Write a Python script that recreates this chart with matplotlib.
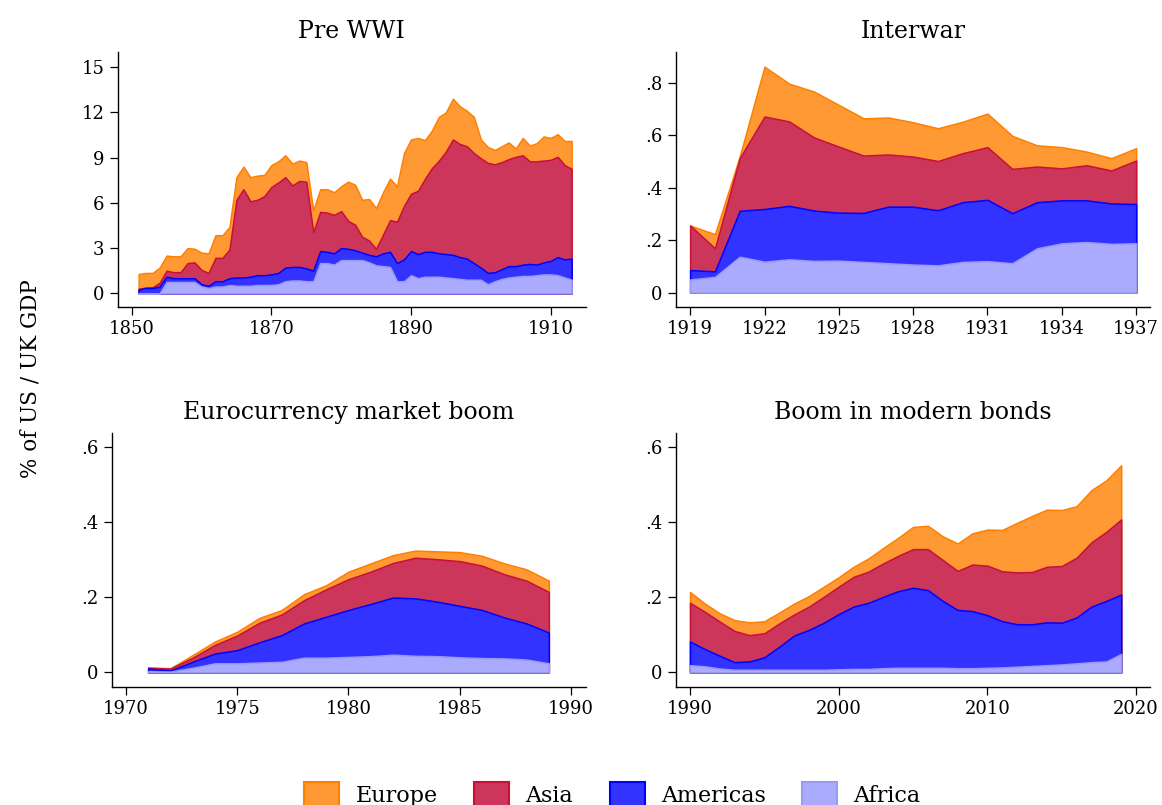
import numpy as np
import matplotlib
matplotlib.use("Agg")
from matplotlib import pyplot as plt
from matplotlib.patches import Patch

plt.rcParams['font.family'] = ['DejaVu Serif']

# ---- Pre WWI (1851-1913), % of US/UK GDP
years_pre = list(range(1851, 1914))
africa_pre = [0.0, 0.0, 0.0, 0.0, 0.75, 0.75, 0.75, 0.75, 0.75, 0.45,
              0.35, 0.45, 0.45, 0.55, 0.5, 0.5, 0.5, 0.55, 0.55, 0.55,
              0.6, 0.8, 0.85, 0.85, 0.8, 0.8, 2.0, 2.0, 1.9, 2.2,
              2.2, 2.2, 2.2, 2.05, 1.85, 1.8, 1.75, 0.8, 0.8, 1.2,
              1.0, 1.1, 1.1, 1.1, 1.05, 1.0, 0.95, 0.9, 0.9, 0.9,
              0.6, 0.8, 0.95, 1.05, 1.1, 1.15, 1.15, 1.2, 1.25, 1.25,
              1.2, 1.05, 0.9]
americas_pre = [0.25, 0.35, 0.35, 0.45, 0.35, 0.25, 0.25, 0.25, 0.25, 0.15,
                0.15, 0.35, 0.35, 0.45, 0.55, 0.55, 0.6, 0.65, 0.65, 0.7,
                0.75, 0.9, 0.9, 0.9, 0.85, 0.7, 0.8, 0.75, 0.75, 0.8,
                0.75, 0.65, 0.5, 0.5, 0.6, 0.85, 1.0, 1.2, 1.45, 1.6,
                1.6, 1.65, 1.65, 1.55, 1.55, 1.55, 1.45, 1.4, 1.1, 0.8,
                0.75, 0.6, 0.65, 0.75, 0.7, 0.75, 0.8, 0.7, 0.8, 0.9,
                1.2, 1.2, 1.4]
asia_pre = [0.05, 0.03, 0.05, 0.25, 0.4, 0.4, 0.4, 1.0, 1.05, 0.95,
            0.85, 1.55, 1.55, 1.9, 5.15, 5.85, 5.0, 5.0, 5.25, 5.8,
            6.0, 6.0, 5.4, 5.7, 5.75, 2.55, 2.6, 2.6, 2.55, 2.45,
            1.85, 1.7, 1.05, 0.95, 0.5, 1.25, 2.1, 2.75, 3.55, 3.8,
            4.2, 4.85, 5.55, 6.15, 6.8, 7.65, 7.5, 7.45, 7.3, 7.25,
            7.3, 7.15, 7.1, 7.1, 7.25, 7.25, 6.8, 6.85, 6.75, 6.7,
            6.65, 6.25, 5.95]
europe_pre = [0.98, 0.97, 0.95, 1.0, 1.0, 1.05, 1.05, 1.0, 0.9, 1.15,
              1.3, 1.5, 1.5, 1.5, 1.5, 1.5, 1.6, 1.6, 1.4, 1.45,
              1.4, 1.45, 1.45, 1.35, 1.3, 1.45, 1.5, 1.55, 1.5, 1.65,
              2.6, 2.65, 2.45, 2.75, 2.7, 2.8, 2.75, 2.35, 3.5, 3.6,
              3.5, 2.55, 2.5, 2.9, 2.6, 2.7, 2.5, 2.35, 2.4, 1.25,
              1.05, 0.95, 1.05, 1.1, 0.55, 1.15, 1.05, 1.2, 1.6, 1.45,
              1.5, 1.6, 1.85]

# ---- Interwar (1919-1937)
years_iw = list(range(1919, 1938))
africa_iw = [0.05, 0.06, 0.137, 0.118, 0.127, 0.121, 0.122, 0.117, 0.112, 0.107,
             0.104, 0.117, 0.12, 0.112, 0.169, 0.188, 0.193, 0.186, 0.188]
americas_iw = [0.036, 0.021, 0.175, 0.201, 0.204, 0.192, 0.183, 0.187, 0.216, 0.221,
               0.21, 0.228, 0.234, 0.191, 0.176, 0.164, 0.159, 0.154, 0.15]
asia_iw = [0.17, 0.088, 0.201, 0.353, 0.322, 0.279, 0.252, 0.219, 0.199, 0.191,
           0.188, 0.187, 0.201, 0.169, 0.136, 0.122, 0.134, 0.126, 0.166]
europe_iw = [0.0, 0.054, 0.007, 0.19, 0.144, 0.175, 0.159, 0.142, 0.141, 0.131,
             0.125, 0.12, 0.128, 0.126, 0.081, 0.081, 0.052, 0.047, 0.047]

# ---- Eurocurrency market boom (1971-1989)
years_eu = list(range(1971, 1990))
africa_eu = [0.003, 0.002, 0.012, 0.024, 0.024, 0.026, 0.028, 0.039, 0.039, 0.041,
             0.043, 0.047, 0.044, 0.043, 0.04, 0.038, 0.037, 0.034, 0.024]
americas_eu = [0.007, 0.003, 0.016, 0.026, 0.035, 0.054, 0.071, 0.091, 0.109, 0.125,
               0.139, 0.152, 0.153, 0.145, 0.137, 0.128, 0.109, 0.096, 0.082]
asia_eu = [0.002, 0.005, 0.011, 0.023, 0.039, 0.052, 0.055, 0.062, 0.073, 0.082,
           0.086, 0.092, 0.108, 0.113, 0.119, 0.118, 0.115, 0.114, 0.108]
europe_eu = [0.001, 0.001, 0.007, 0.009, 0.01, 0.013, 0.012, 0.016, 0.011, 0.02,
             0.022, 0.021, 0.019, 0.021, 0.024, 0.026, 0.029, 0.03, 0.03]

# ---- Boom in modern bonds (1990-2019)
years_mb = list(range(1990, 2020))
africa_mb = [0.019, 0.016, 0.01, 0.007, 0.007, 0.007, 0.007, 0.007, 0.007, 0.007,
             0.008, 0.009, 0.009, 0.011, 0.012, 0.012, 0.012, 0.012, 0.011, 0.011,
             0.012, 0.013, 0.015, 0.017, 0.019, 0.021, 0.024, 0.027, 0.029, 0.049]
americas_mb = [0.063, 0.046, 0.034, 0.02, 0.022, 0.033, 0.061, 0.091, 0.106, 0.125,
               0.147, 0.166, 0.176, 0.19, 0.204, 0.213, 0.207, 0.178, 0.155, 0.152,
               0.14, 0.123, 0.113, 0.111, 0.114, 0.111, 0.122, 0.148, 0.161, 0.158]
asia_mb = [0.103, 0.099, 0.091, 0.083, 0.07, 0.064, 0.062, 0.056, 0.062, 0.069,
           0.073, 0.079, 0.083, 0.089, 0.094, 0.103, 0.109, 0.109, 0.104, 0.124,
           0.132, 0.133, 0.138, 0.139, 0.148, 0.151, 0.159, 0.171, 0.184, 0.2]
europe_mb = [0.029, 0.022, 0.022, 0.029, 0.034, 0.032, 0.029, 0.029, 0.028, 0.027,
             0.025, 0.027, 0.035, 0.041, 0.048, 0.059, 0.062, 0.063, 0.073, 0.083,
             0.096, 0.11, 0.132, 0.149, 0.152, 0.149, 0.137, 0.139, 0.137, 0.144]

regions = ['Europe', 'Asia', 'Americas', 'Africa']
fills = {'Europe': '#FF9933', 'Asia': '#CC365A', 'Americas': '#3333FF', 'Africa': '#AAAAFF'}
edges = {'Europe': '#FF8000', 'Asia': '#C8103A', 'Americas': '#0000FF', 'Africa': '#9A9AF0'}

panels = [
    ("Pre WWI", years_pre, africa_pre, americas_pre, asia_pre, europe_pre,
     [0.1013, 0.6186, 0.4030, 0.3168], (1848.0, 1915.06), (-0.91, 16.0),
     [1850, 1870, 1890, 1910], [0, 3, 6, 9, 12, 15], ['0', '3', '6', '9', '12', '15']),
    ("Interwar", years_iw, africa_iw, americas_iw, asia_iw, europe_iw,
     [0.5818, 0.6186, 0.4079, 0.3168], (1918.43, 1937.56), (-0.055, 0.918),
     list(range(1919, 1938, 3)), [0, .2, .4, .6, .8], ['0', '.2', '.4', '.6', '.8']),
    ("Eurocurrency market boom", years_eu, africa_eu, americas_eu, asia_eu, europe_eu,
     [0.0961, 0.1466, 0.4082, 0.3155], (1969.36, 1990.67), (-0.039, 0.637),
     [1970, 1975, 1980, 1985, 1990], [0, .2, .4, .6], ['0', '.2', '.4', '.6']),
    ("Boom in modern bonds", years_mb, africa_mb, americas_mb, asia_mb, europe_mb,
     [0.5818, 0.1466, 0.4079, 0.3155], (1989.06, 2020.94), (-0.039, 0.637),
     [1990, 2000, 2010, 2020], [0, .2, .4, .6], ['0', '.2', '.4', '.6']),
]

fig = plt.figure(figsize=(11.62, 8.05), dpi=100)

for title, yrs, af, am, asi, eu, pos, xl, yl, xt, yt, ytl in panels:
    ax = fig.add_axes(pos)
    af = np.array(af)
    am = np.array(am)
    asi = np.array(asi)
    eu = np.array(eu)
    # cumulative levels, drawn from the total down so each boundary
    # carries the colour of the layer below it
    levels = {'Africa': af, 'Americas': af + am, 'Asia': af + am + asi,
              'Europe': af + am + asi + eu}
    for r in regions:
        ax.fill_between(yrs, 0, levels[r], facecolor=fills[r], edgecolor=edges[r],
                        linewidth=1.1)
    ax.set_xlim(*xl)
    ax.set_ylim(*yl)
    ax.set_xticks(xt)
    ax.set_yticks(yt)
    ax.set_yticklabels(ytl)
    ax.spines['top'].set_visible(False)
    ax.spines['right'].set_visible(False)
    ax.spines['left'].set_linewidth(1.0)
    ax.spines['bottom'].set_linewidth(1.0)
    ax.tick_params(direction='out', length=5.5, width=0.9, labelsize=13, pad=4)
    ax.set_title(title, fontsize=17, pad=10)

fig.text(0.026, 0.53, "% of US / UK GDP", rotation=90, fontsize=15.5,
         ha='center', va='center')

handles = [Patch(facecolor=fills[r], edgecolor=edges[r], linewidth=1.5, label=r)
           for r in regions]
fig.legend(handles=handles, loc='center', bbox_to_anchor=(0.527, 0.013), ncol=4,
           frameon=False, fontsize=16, handlelength=1.58, handleheight=1.4,
           handletextpad=0.72, columnspacing=1.65)

fig.savefig("out.png", dpi=100)
